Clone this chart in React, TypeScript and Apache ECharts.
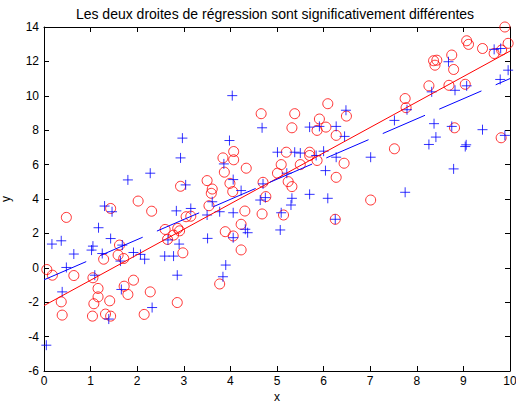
import React, { useEffect, useRef } from "react";
import * as echarts from "echarts";

const titleText = "Les deux droites de régression sont significativement différentes";
const xTicks = [0, 1, 2, 3, 4, 5, 6, 7, 8, 9, 10];
const yTicks = [-6, -4, -2, 0, 2, 4, 6, 8, 10, 12, 14];

const redPoints: number[][] = [
  [0.06, -0.1], [0.18, -0.43], [0.48, 2.93], [0.37, -1.98], [0.39, -2.75], [0.64, -0.45],
  [1.05, -0.58], [1.16, -1.2], [1.16, -1.69], [1.07, -2.09], [1.04, -2.81], [1.28, 0.5],
  [1.43, 3.45], [1.41, -1.92], [1.32, -2.69], [1.43, -2.81], [1.62, 1.32], [1.59, 0.74],
  [1.71, 0.54], [1.72, -1.07], [1.8, -1.55], [1.92, -0.72], [2.02, 3.88], [2.31, 3.29],
  [2.28, -1.4], [2.15, -2.71], [2.6, 2.23], [2.65, 1.65], [2.78, 1.9], [2.87, 2.29],
  [2.91, 2.15], [2.98, 0.87], [2.86, -2.02], [3.05, 2.97], [3.15, 3.0], [2.93, 4.74],
  [4.66, 8.96], [5.38, 8.96], [5.32, 8.14], [6.09, 9.54], [6.49, 8.82], [5.91, 8.65],
  [6.05, 8.18], [5.86, 7.99], [6.27, 7.7], [4.07, 6.76], [4.07, 6.28], [3.84, 6.39],
  [4.34, 5.79], [3.87, 5.56], [3.5, 5.07], [3.99, 4.91], [3.61, 4.58], [3.59, 4.33],
  [4.05, 4.43], [4.7, 4.97], [5.2, 6.72], [5.7, 6.72], [5.7, 6.53], [5.86, 6.24],
  [6.44, 6.08], [5.09, 6.0], [5.5, 6.0], [5.01, 5.5], [5.24, 5.01], [5.32, 4.72],
  [6.27, 5.26], [3.54, 3.61], [4.31, 3.3], [4.68, 3.13], [4.76, 4.14], [5.14, 3.07],
  [6.25, 2.82], [4.23, 2.53], [3.89, 2.1], [4.06, 1.85], [4.23, 1.04], [3.77, -0.94],
  [9.89, 14.0], [9.07, 13.2], [9.11, 12.99], [9.96, 13.05], [9.41, 12.75], [9.66, 12.46],
  [9.82, 12.66], [8.75, 12.37], [8.36, 12.04], [8.43, 12.07], [8.39, 11.78], [8.79, 11.53],
  [8.26, 10.58], [8.69, 10.61], [9.04, 10.67], [7.75, 9.84], [7.77, 9.31], [8.81, 8.14],
  [9.81, 7.56], [7.52, 6.92], [7.01, 3.94],
];

const bluePoints: number[][] = [
  [0.05, -4.5], [0.17, 1.38], [0.37, 1.57], [0.48, 0.02], [0.39, -1.4], [0.64, 0.8],
  [1.02, 1.03], [1.05, 1.26], [1.09, -0.43], [1.17, 2.33], [1.25, 0.83], [1.3, 3.59],
  [1.46, 3.26], [1.43, 1.7], [1.39, -2.98], [1.68, 1.32], [1.64, 0.39], [1.66, -1.26],
  [1.92, 0.89], [2.07, 0.78], [2.16, 0.5], [2.32, -2.31], [2.84, 3.31], [2.9, 1.38],
  [2.59, 0.68], [2.78, 0.68], [2.86, -0.43], [3.15, 3.45], [2.66, 1.62],
  [1.8, 5.11], [2.28, 5.5], [2.97, 7.54], [2.93, 6.39], [3.04, 4.82],
  [4.04, 10.01], [4.68, 8.14], [6.48, 9.16], [5.7, 8.18], [5.91, 8.22], [6.27, 8.22],
  [6.45, 7.64], [3.98, 7.4], [3.86, 6.04], [4.06, 5.13], [4.23, 4.49], [4.7, 4.88],
  [5.01, 6.72], [5.38, 6.72], [5.5, 6.67], [5.84, 6.53], [6.0, 6.78], [6.27, 6.43],
  [5.21, 5.5], [6.04, 5.65],
  [4.75, 4.08], [4.64, 3.94], [3.61, 3.84], [3.5, 3.07], [3.77, 3.26], [4.06, 3.2],
  [5.09, 3.2], [5.3, 3.65], [5.32, 4.04], [5.7, 4.27], [6.09, 4.04], [6.25, 2.82],
  [4.32, 2.24], [4.37, 2.04], [4.06, 1.75], [3.51, 1.71], [5.07, 2.2], [3.9, 0.16],
  [3.84, -0.52],
  [9.66, 12.7], [9.8, 12.75], [8.68, 11.98], [9.96, 11.49], [9.79, 10.95], [9.07, 10.58],
  [8.82, 10.32], [8.32, 10.23], [7.79, 9.19], [7.52, 8.57], [8.37, 8.38], [8.75, 8.22],
  [9.41, 8.03], [8.41, 7.6], [8.26, 7.17], [9.06, 7.15], [9.04, 7.05], [9.89, 7.7],
  [7.01, 6.43], [8.79, 5.75], [7.75, 4.39],
];

const redLine: number[][] = [[0, -2.2], [10, 12.6]];
const blueLine: number[][] = [[0, -0.7], [10, 11.0]];

const FONT = "Liberation Sans, Arial, sans-serif";

export default function App() {
  const ref = useRef<HTMLDivElement>(null);
  useEffect(() => {
    if (!ref.current) return;
    const chart = echarts.init(ref.current, null, { renderer: "svg" });
    const axisCommon = {
      axisLine: { show: true, onZero: false, lineStyle: { color: "#000", width: 1 } },
      axisTick: { show: true, inside: true, length: 5, lineStyle: { color: "#000" } },
      splitLine: { show: false },
    };
    chart.setOption({
      animation: false,
      backgroundColor: "#fff",
      textStyle: { fontFamily: FONT },
      grid: {
        left: 44,
        right: 6,
        top: 27,
        bottom: 33,
        containLabel: false,
        outerBoundsMode: "none",
      },
      graphic: [
        {
          type: "text",
          x: 275,
          y: 14,
          style: {
            text: titleText,
            fill: "#000",
            font: `14px ${FONT}`,
            textAlign: "center",
            textVerticalAlign: "middle",
          },
        },
        {
          type: "text",
          x: 277,
          y: 396.5,
          style: {
            text: "x",
            fill: "#000",
            font: `12px ${FONT}`,
            textAlign: "center",
            textVerticalAlign: "middle",
          },
        },
      ],
      xAxis: [
        {
          type: "value",
          min: 0,
          max: 10,
          interval: 1,
          axisLabel: { color: "#000", fontSize: 12, margin: 4, fontFamily: FONT },
          ...axisCommon,
        },
        {
          type: "value",
          position: "top",
          min: 0,
          max: 10,
          interval: 1,
          axisLabel: { show: false },
          ...axisCommon,
        },
      ],
      yAxis: [
        {
          type: "value",
          min: -6,
          max: 14,
          interval: 2,
          name: "y",
          nameLocation: "middle",
          nameGap: 32,
          nameTextStyle: { color: "#000", fontSize: 12, fontFamily: FONT },
          axisLabel: { color: "#000", fontSize: 12, margin: 5, fontFamily: FONT },
          ...axisCommon,
        },
        {
          type: "value",
          position: "right",
          min: -6,
          max: 14,
          interval: 2,
          axisLabel: { show: false },
          ...axisCommon,
        },
      ],
      series: [
        {
          type: "scatter",
          data: redPoints,
          symbol: "circle",
          symbolSize: 10,
          itemStyle: { color: "rgba(0,0,0,0)", borderColor: "#ff0000", borderWidth: 1 },
        },
        {
          type: "scatter",
          data: bluePoints,
          symbol: "path://M0,5L10,5M5,0L5,10",
          symbolSize: 10,
          itemStyle: { color: "#0000ff", borderColor: "#0000ff", borderWidth: 1 },
        },
        {
          type: "line",
          data: redLine,
          symbol: "none",
          lineStyle: { color: "#ff0000", width: 1 },
        },
        {
          type: "line",
          data: blueLine,
          symbol: "none",
          lineStyle: { color: "#0000ff", width: 1, type: [46, 15.5] },
        },
      ],
    });
    return () => chart.dispose();
  }, []);
  return (
    <div
      ref={ref}
      style={{ position: "fixed", left: 0, top: 0, width: 516, height: 404, background: "#fff" }}
    />
  );
}
